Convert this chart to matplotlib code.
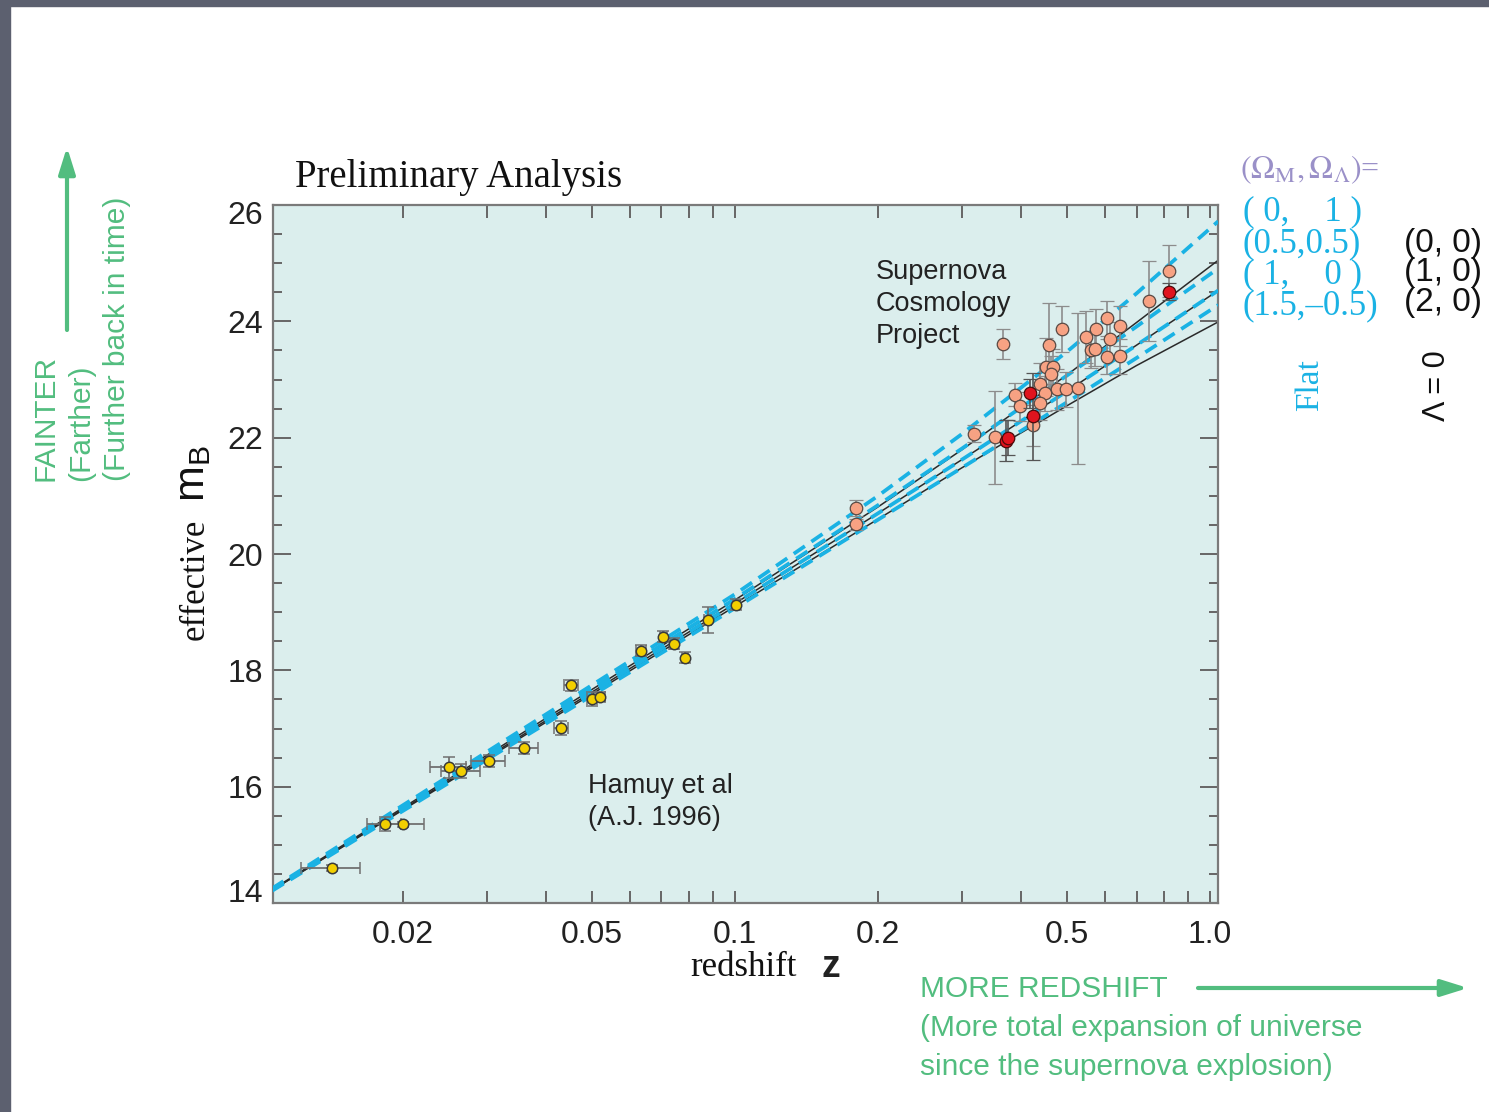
import numpy as np
import matplotlib.pyplot as plt
import matplotlib.transforms as mtrans
from matplotlib.patches import Rectangle
from matplotlib.ticker import FixedLocator, NullFormatter

plt.rcParams['mathtext.fontset'] = 'custom'
plt.rcParams['mathtext.rm'] = 'Liberation Sans'
plt.rcParams['mathtext.it'] = 'Liberation Sans:italic'
plt.rcParams['mathtext.bf'] = 'Liberation Sans:bold'

SANS = 'Liberation Sans'
SERIF = 'Liberation Serif'

# ---------------- data ----------------
# model curves: effective m_B at a few redshifts for each (Omega_M, Omega_L)
z_model = [0.0106, 0.1, 0.2, 0.3, 0.5, 0.7, 1.04]
m_black = {
    '(0, 0)': [14.23, 19.21, 20.81, 21.79, 23.08, 23.98, 25.05],
    '(1, 0)': [14.22, 19.15, 20.70, 21.62, 22.80, 23.59, 24.53],
    '(2, 0)': [14.22, 19.10, 20.60, 21.48, 22.55, 23.24, 23.99],
}
m_flat = {
    '(0, 1)': [14.25, 19.31, 21.00, 22.06, 23.48, 24.48, 25.72],
    '(0.5, 0.5)': [14.23, 19.23, 20.84, 21.81, 23.07, 23.91, 24.91],
    '(1, 0)': [14.22, 19.15, 20.70, 21.62, 22.80, 23.59, 24.53],
    '(1.5, -0.5)': [14.21, 19.07, 20.59, 21.48, 22.61, 23.37, 24.28],
}

# Calan/Tololo (Hamuy et al 1996)
hz = [0.0142, 0.0183, 0.0200, 0.0250, 0.0265, 0.0303, 0.0360, 0.0431, 0.0452,
      0.0500, 0.0520, 0.0633, 0.0706, 0.0745, 0.0785, 0.0875, 0.1003]
hm = [14.60, 15.35, 15.35, 16.33, 16.27, 16.44, 16.67, 17.01, 17.74,
      17.51, 17.55, 18.34, 18.58, 18.46, 18.22, 18.87, 19.13]
hzerr = [0.0020, 0.0015, 0.0021, 0.0022, 0.0025, 0.0025, 0.0025, 0.0015, 0.0015,
         0.0012, 0.0012, 0.0015, 0.0012, 0.0015, 0.0012, 0.0015, 0.0015]
hmerr = [0.05, 0.12, 0.05, 0.18, 0.12, 0.10, 0.10, 0.12, 0.10,
         0.12, 0.08, 0.10, 0.10, 0.10, 0.10, 0.22, 0.10]

# Supernova Cosmology Project
sz = [0.180, 0.180, 0.318, 0.353, 0.367, 0.389, 0.398, 0.423, 0.4385, 0.449,
      0.4385, 0.452, 0.457, 0.468, 0.462, 0.4755, 0.487, 0.4977, 0.526, 0.547,
      0.561, 0.573, 0.575, 0.606, 0.606, 0.616, 0.647, 0.647, 0.745, 0.821]
sm = [20.79, 20.51, 22.07, 22.01, 23.61, 22.74, 22.54, 22.21, 22.93, 22.76,
      22.60, 23.22, 23.59, 23.22, 23.10, 22.83, 23.87, 22.83, 22.85, 23.73,
      23.50, 23.53, 23.87, 24.05, 23.39, 23.69, 23.92, 23.40, 24.35, 24.87]
smerr = [0.13, 0.10, 0.15, 0.80, 0.25, 0.20, 0.25, 0.35, 0.35, 0.30,
         0.30, 0.50, 0.72, 0.30, 0.30, 0.35, 0.40, 0.30, 1.30, 0.45,
         0.30, 0.30, 0.35, 0.30, 0.30, 0.30, 0.35, 0.30, 0.69, 0.45]

rz = [0.372, 0.376, 0.418, 0.423, 0.821]
rm = [21.95, 22.00, 22.76, 22.37, 24.51]
rmerr = [0.35, 0.30, 0.25, 0.75, 0.15]

x_major = [0.02, 0.05, 0.1, 0.2, 0.5, 1.0]
x_labels = ['0.02', '0.05', '0.1', '0.2', '0.5', '1.0']
x_minor = [0.03, 0.04, 0.06, 0.07, 0.08, 0.09, 0.3, 0.4, 0.6, 0.7, 0.8, 0.9]
y_major = [14, 16, 18, 20, 22, 24, 26]

flat_keys = ['( 0,    1 )', '(0.5,0.5)', '( 1,    0 )', '(1.5,\u20130.5)']
open_keys = ['(0, 0)', '(1, 0)', '(2, 0)']

# ---------------- figure ----------------
W, H = 1489, 1112
fig = plt.figure(figsize=(W / 100, H / 100), dpi=100)
fig.patch.set_facecolor('white')


def fx(px):
    return px / W


def fy(py):
    return 1 - py / H


# dark slide border on top / left
fig.patches.append(Rectangle((0, fy(6)), 1, 6 / H, transform=fig.transFigure,
                             color='#5c606f', zorder=0))
fig.patches.append(Rectangle((0, 0), 10 / W, 1, transform=fig.transFigure,
                             color='#5c606f', zorder=0))

ax = fig.add_axes([fx(273), fy(903), fx(1218) - fx(273), fy(205) - fy(903)])
ax.set_facecolor('#dbeeed')
ax.set_xscale('log')
ax.set_xlim(0.01065, 1.039)
ax.set_ylim(14, 26)

blue = '#1ab2e4'
for k, v in m_black.items():
    ax.plot(z_model, v, color='#2a2a2a', lw=1.1, zorder=2)
for k, v in m_flat.items():
    ax.plot(z_model, v, color=blue, lw=2.7, dashes=(3.6, 2.1), zorder=3)

ax.errorbar(hz, hm, xerr=hzerr, yerr=hmerr, fmt='o', ms=7.5, mfc='#f2cf00',
            mec='#3a3a3a', mew=1.1, ecolor='#707070', elinewidth=1.3,
            capsize=4, capthick=1.3, zorder=5)
ax.errorbar(sz, sm, yerr=smerr, fmt='o', ms=9, mfc='#f7a283', mec='#5a4a44',
            mew=0.9, ecolor='#8c8c8c', elinewidth=1.2, capsize=5,
            capthick=1.2, zorder=5)
ax.errorbar(rz, rm, yerr=rmerr, fmt='o', ms=9, mfc='#e0141e', mec='#4a0a0a',
            mew=0.9, ecolor='#555555', elinewidth=1.2, capsize=5,
            capthick=1.2, zorder=6)

ax.xaxis.set_major_locator(FixedLocator(x_major))
ax.xaxis.set_minor_locator(FixedLocator(x_minor))
ax.xaxis.set_minor_formatter(NullFormatter())
ax.set_xticklabels(x_labels)
ax.set_yticks(y_major)
ax.yaxis.set_minor_locator(FixedLocator(np.arange(14, 26.01, 0.5)))

ax.tick_params(axis='x', which='both', direction='in', top=True, bottom=True,
               length=9, width=1.4, color='#666666', pad=12,
               labelsize=23, labelcolor='#222222')
ax.tick_params(axis='y', which='major', direction='in', left=True, right=True,
               length=13, width=1.4, color='#666666', pad=7,
               labelsize=23, labelcolor='#222222')
ax.tick_params(axis='y', which='minor', direction='in', left=True, right=True,
               length=6.5, width=1.4, color='#666666')
for lab in ax.get_xticklabels() + ax.get_yticklabels():
    lab.set_fontfamily(SANS)
for s in ax.spines.values():
    s.set_color('#7a7a7a')
    s.set_linewidth(1.6)

# ---------------- text ----------------
fig.text(fx(295), fy(177), 'Preliminary Analysis', family=SERIF, fontsize=28,
         va='center', ha='left', color='#111111')
fig.text(fx(876), fy(304), 'Supernova\nCosmology\nProject', family=SANS,
         fontsize=19.5, va='center', ha='left', color='#222222',
         linespacing=1.3)
fig.text(fx(588), fy(802), 'Hamuy et al\n(A.J. 1996)', family=SANS,
         fontsize=19.5, va='center', ha='left', color='#222222',
         linespacing=1.3)

# axis titles
fig.text(fx(195), fy(640), 'effective', family=SERIF, fontsize=25,
         rotation=90, ha='center', va='bottom', color='#111111')
fig.text(fx(192), fy(502), r'$\mathrm{m_B}$', fontsize=31, rotation=90,
         ha='center', va='bottom', color='#111111', math_fontfamily='custom')
fig.text(fx(690), fy(968), 'redshift', family=SERIF, fontsize=25,
         ha='left', va='center', color='#111111')
fig.text(fx(822), fy(967), 'z', family=SANS, fontsize=27, weight='bold',
         ha='left', va='center', color='#222222')

# right hand key
fig.text(fx(1240), fy(170), r'$(\Omega_{\rm M},\Omega_{\Lambda})$=',
         fontsize=23, color='#9a90c8', ha='left', va='center',
         math_fontfamily='stix', family=SERIF)
fig.text(fx(1243), fy(259), '\n'.join(flat_keys), family=SERIF, fontsize=25,
         color=blue, ha='left', va='center', linespacing=0.93)
fig.text(fx(1404), fy(273), '\n'.join(open_keys), family=SANS, fontsize=24,
         color='#111111', ha='left', va='center', linespacing=0.95)
fig.text(fx(1310), fy(385), 'Flat', family=SERIF, fontsize=24, color=blue,
         rotation=90, ha='center', va='center')
fig.text(fx(1437), fy(386), '\u039b = 0', family=SANS, fontsize=22,
         color='#111111', rotation=90, ha='center', va='center')

# green annotations
green = '#52bd7f'
fig.text(fx(45), fy(481), 'FAINTER', family=SANS, fontsize=21.5, color=green,
         rotation=90, ha='center', va='bottom')
fig.text(fx(81), fy(481), '(Farther)', family=SANS, fontsize=21.5, color=green,
         rotation=90, ha='center', va='bottom')
fig.text(fx(117), fy(481), '(Further back in time)', family=SANS,
         fontsize=21.5, color=green, rotation=90, ha='center', va='bottom')
fig.text(fx(920), fy(989), 'MORE REDSHIFT', family=SANS, fontsize=21.5,
         color=green, ha='left', va='center')
fig.text(fx(920), fy(1028), '(More total expansion of universe', family=SANS,
         fontsize=21.5, color=green, ha='left', va='center')
fig.text(fx(920), fy(1067), 'since the supernova explosion)', family=SANS,
         fontsize=21.5, color=green, ha='left', va='center')

arrow = dict(arrowstyle='-|>,head_length=1.6,head_width=0.5', color=green,
             lw=3, shrinkA=0, shrinkB=0)
fig.add_artist(plt.Annotation('', xy=(fx(67), fy(147)), xytext=(fx(67), fy(330)),
                              xycoords='figure fraction',
                              textcoords='figure fraction', arrowprops=arrow))
fig.add_artist(plt.Annotation('', xy=(fx(1468), fy(988)), xytext=(fx(1198), fy(988)),
                              xycoords='figure fraction',
                              textcoords='figure fraction', arrowprops=arrow))

# end labels of the y axis sit a little inside the frame, as in the original
fig.canvas.draw()
ylabs = ax.yaxis.get_majorticklabels()
ylabs[0].set_transform(ylabs[0].get_transform()
                       + mtrans.ScaledTranslation(0, 12 / 100, fig.dpi_scale_trans))
ylabs[-1].set_transform(ylabs[-1].get_transform()
                        + mtrans.ScaledTranslation(0, -8 / 100, fig.dpi_scale_trans))

fig.savefig('out.png', dpi=100)
